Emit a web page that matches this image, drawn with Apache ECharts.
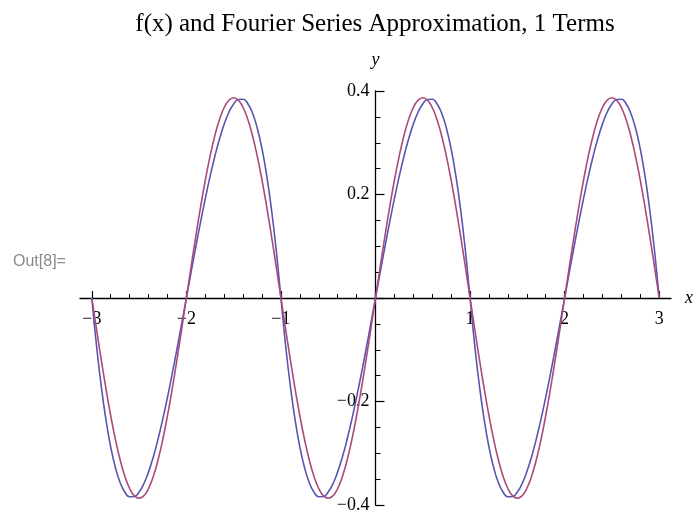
<!DOCTYPE html>
<html>
<head>
<meta charset="utf-8">
<script src="https://cdn.jsdelivr.net/npm/echarts@6/dist/echarts.min.js"></script>
<style>
  html, body { margin: 0; padding: 0; background: #fff; }
  #chart { width: 697px; height: 512px; }
</style>
</head>
<body>
<div id="chart"></div>
<script>
// Sample points along x, step 0.05 over [-3, 3]
const xs = [
  -3, -2.95, -2.9, -2.85, -2.8, -2.75, -2.7, -2.65, -2.6, -2.55, -2.5, -2.45, -2.4, -2.35, -2.3, -2.25, -2.2, -2.15, -2.1, -2.05,
  -2, -1.95, -1.9, -1.85, -1.8, -1.75, -1.7, -1.65, -1.6, -1.55, -1.5, -1.45, -1.4, -1.35, -1.3, -1.25, -1.2, -1.15, -1.1, -1.05,
  -1, -0.95, -0.9, -0.85, -0.8, -0.75, -0.7, -0.65, -0.6, -0.55, -0.5, -0.45, -0.4, -0.35, -0.3, -0.25, -0.2, -0.15, -0.1, -0.05,
  0, 0.05, 0.1, 0.15, 0.2, 0.25, 0.3, 0.35, 0.4, 0.45, 0.5, 0.55, 0.6, 0.65, 0.7, 0.75, 0.8, 0.85, 0.9, 0.95,
  1, 1.05, 1.1, 1.15, 1.2, 1.25, 1.3, 1.35, 1.4, 1.45, 1.5, 1.55, 1.6, 1.65, 1.7, 1.75, 1.8, 1.85, 1.9, 1.95,
  2, 2.05, 2.1, 2.15, 2.2, 2.25, 2.3, 2.35, 2.4, 2.45, 2.5, 2.55, 2.6, 2.65, 2.7, 2.75, 2.8, 2.85, 2.9, 2.95,
  3
];

// f(x): the periodic function
const fx = [
  0, -0.0926, -0.1710, -0.2359, -0.2880, -0.3281, -0.3570, -0.3754, -0.3840, -0.3836, -0.3750, -0.3589, -0.3360, -0.3071, -0.2730, -0.2344, -0.1920, -0.1466, -0.0990, -0.0499,
  0, 0.0499, 0.0990, 0.1466, 0.1920, 0.2344, 0.2730, 0.3071, 0.3360, 0.3589, 0.3750, 0.3836, 0.3840, 0.3754, 0.3570, 0.3281, 0.2880, 0.2359, 0.1710, 0.0926,
  0, -0.0926, -0.1710, -0.2359, -0.2880, -0.3281, -0.3570, -0.3754, -0.3840, -0.3836, -0.3750, -0.3589, -0.3360, -0.3071, -0.2730, -0.2344, -0.1920, -0.1466, -0.0990, -0.0499,
  0, 0.0499, 0.0990, 0.1466, 0.1920, 0.2344, 0.2730, 0.3071, 0.3360, 0.3589, 0.3750, 0.3836, 0.3840, 0.3754, 0.3570, 0.3281, 0.2880, 0.2359, 0.1710, 0.0926,
  0, -0.0926, -0.1710, -0.2359, -0.2880, -0.3281, -0.3570, -0.3754, -0.3840, -0.3836, -0.3750, -0.3589, -0.3360, -0.3071, -0.2730, -0.2344, -0.1920, -0.1466, -0.0990, -0.0499,
  0, 0.0499, 0.0990, 0.1466, 0.1920, 0.2344, 0.2730, 0.3071, 0.3360, 0.3589, 0.3750, 0.3836, 0.3840, 0.3754, 0.3570, 0.3281, 0.2880, 0.2359, 0.1710, 0.0926,
  0
];

// One-term Fourier approximation
const approx1 = [
  0, -0.0605, -0.1196, -0.1757, -0.2275, -0.2737, -0.3131, -0.3448, -0.3681, -0.3822, -0.3870, -0.3822, -0.3681, -0.3448, -0.3131, -0.2737, -0.2275, -0.1757, -0.1196, -0.0605,
  0, 0.0605, 0.1196, 0.1757, 0.2275, 0.2737, 0.3131, 0.3448, 0.3681, 0.3822, 0.3870, 0.3822, 0.3681, 0.3448, 0.3131, 0.2737, 0.2275, 0.1757, 0.1196, 0.0605,
  0, -0.0605, -0.1196, -0.1757, -0.2275, -0.2737, -0.3131, -0.3448, -0.3681, -0.3822, -0.3870, -0.3822, -0.3681, -0.3448, -0.3131, -0.2737, -0.2275, -0.1757, -0.1196, -0.0605,
  0, 0.0605, 0.1196, 0.1757, 0.2275, 0.2737, 0.3131, 0.3448, 0.3681, 0.3822, 0.3870, 0.3822, 0.3681, 0.3448, 0.3131, 0.2737, 0.2275, 0.1757, 0.1196, 0.0605,
  0, -0.0605, -0.1196, -0.1757, -0.2275, -0.2737, -0.3131, -0.3448, -0.3681, -0.3822, -0.3870, -0.3822, -0.3681, -0.3448, -0.3131, -0.2737, -0.2275, -0.1757, -0.1196, -0.0605,
  0, 0.0605, 0.1196, 0.1757, 0.2275, 0.2737, 0.3131, 0.3448, 0.3681, 0.3822, 0.3870, 0.3822, 0.3681, 0.3448, 0.3131, 0.2737, 0.2275, 0.1757, 0.1196, 0.0605,
  0
];

// Tick positions and labels
const xLabelValues = [-3, -2, -1, 1, 2, 3];
const xMajorTicks = [-3, -2, -1, 0, 1, 2, 3];
const xMinorTicks = [-2.8, -2.6, -2.4, -2.2, -1.8, -1.6, -1.4, -1.2, -0.8, -0.6, -0.4, -0.2,
                     0.2, 0.4, 0.6, 0.8, 1.2, 1.4, 1.6, 1.8, 2.2, 2.4, 2.6, 2.8];
const yLabelValues = [-0.4, -0.2, 0.2, 0.4];

const titleText = 'f(x) and Fourier Series Approximation, 1 Terms';
const cellLabel = 'Out[8]=';

// Plot range
const X_MIN = -3.125, X_MAX = 3.125;
const Y_MIN = -0.4, Y_MAX = 0.4;

const pair = (ys) => xs.map((x, i) => [x, ys[i]]);
const minus = (s) => String(s).replace('-', '\u2212');

const serif = 'Liberation Serif, Times New Roman, serif';
const tickFont = { fontFamily: serif, fontSize: 18, color: '#000' };

const chart = echarts.init(document.getElementById('chart'), null, { renderer: 'canvas' });
chart.setOption({
  animation: false,
  backgroundColor: '#fff',
  title: [
    {
      text: titleText,
      left: 375, top: 12, textAlign: 'center', padding: 0,
      textStyle: { fontFamily: serif, fontSize: 25, fontWeight: 'normal', color: '#000' }
    },
    {
      text: cellLabel,
      left: 13, top: 254, padding: 0,
      textStyle: { fontFamily: 'Liberation Sans, Arial, sans-serif', fontSize: 16, fontWeight: 'normal', color: '#8a8a8a' }
    }
  ],
  grid: { left: 80, right: 26, top: 91, bottom: 7, containLabel: false, outerBoundsMode: 'none' },
  xAxis: [
    {
      type: 'value', min: X_MIN, max: X_MAX, position: 'bottom',
      name: 'x', nameLocation: 'end', nameGap: 14,
      nameTextStyle: { fontFamily: serif, fontStyle: 'italic', fontSize: 18, color: '#000', verticalAlign: 'middle' },
      axisLine: { show: true, onZero: false, lineStyle: { color: '#000', width: 1.3 } },
      axisTick: { show: true, inside: true, length: 7, customValues: xMajorTicks, lineStyle: { color: '#000', width: 1.2 } },
      axisLabel: {
        show: true, margin: 12, customValues: xLabelValues,
        formatter: (v) => minus(v), ...tickFont
      },
      splitLine: { show: false }
    },
    {
      type: 'value', min: X_MIN, max: X_MAX, position: 'bottom',
      axisLine: { show: false, onZero: false },
      axisTick: { show: true, inside: true, length: 4, customValues: xMinorTicks, lineStyle: { color: '#000', width: 1 } },
      axisLabel: { show: false },
      splitLine: { show: false }
    }
  ],
  yAxis: {
    type: 'value', min: Y_MIN, max: Y_MAX, interval: 0.2, position: 'left',
    name: 'y', nameLocation: 'end', nameGap: 22,
    nameTextStyle: { fontFamily: serif, fontStyle: 'italic', fontSize: 18, color: '#000', align: 'center' },
    axisLine: { show: true, onZero: false, lineStyle: { color: '#000', width: 1.3 } },
    axisTick: { show: true, inside: true, length: 9, lineStyle: { color: '#000', width: 1.2 } },
    minorTick: { show: true, splitNumber: 4, length: 5, lineStyle: { color: '#000', width: 1 } },
    axisLabel: {
      show: true, margin: 6, customValues: yLabelValues,
      formatter: (v) => minus(Number(v).toFixed(1)), ...tickFont
    },
    splitLine: { show: false },
    minorSplitLine: { show: false }
  },
  series: [
    {
      name: 'f(x)', type: 'line', xAxisIndex: 0, yAxisIndex: 0,
      data: pair(fx), showSymbol: false, smooth: true,
      lineStyle: { color: '#5656b2', width: 1.6 }
    },
    {
      name: 'approximation', type: 'line', xAxisIndex: 0, yAxisIndex: 0,
      data: pair(approx1), showSymbol: false, smooth: true,
      lineStyle: { color: '#a84a7e', width: 1.6 }
    }
  ]
});

// Move both axes so they cross at the origin (labels travel with the axis line)
const zeroY = chart.convertToPixel({ yAxisIndex: 0 }, 0);
const bottomY = chart.convertToPixel({ yAxisIndex: 0 }, Y_MIN);
const zeroX = chart.convertToPixel({ xAxisIndex: 0 }, 0);
const leftX = chart.convertToPixel({ xAxisIndex: 0 }, X_MIN);
chart.setOption({
  xAxis: [{ offset: zeroY - bottomY }, { offset: zeroY - bottomY }],
  yAxis: { offset: leftX - zeroX }
});
</script>
</body>
</html>
